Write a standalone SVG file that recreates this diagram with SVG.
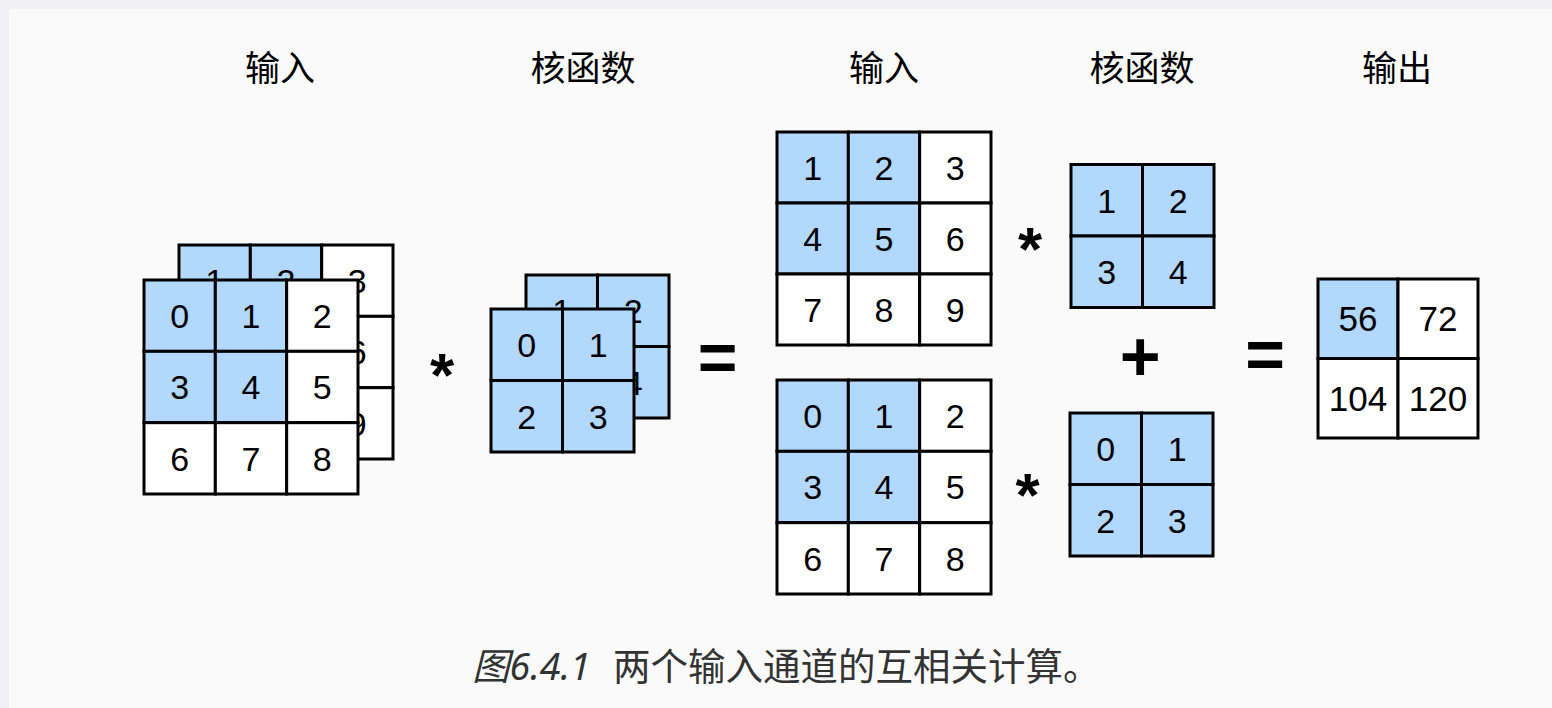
<svg xmlns="http://www.w3.org/2000/svg" width="1552" height="708" viewBox="0 0 1552 708">
<style>
.cb{fill:#b3d8fd;stroke:#000;stroke-width:3}
.cw{fill:#fff;stroke:#000;stroke-width:3}
.n{font-family:"Liberation Sans",Arial,sans-serif;font-size:34px;fill:#000;text-anchor:middle}
.no{font-family:"Liberation Sans",Arial,sans-serif;font-size:35px;fill:#000;text-anchor:middle}
.lbl{font-family:"Noto Sans CJK SC","Noto Sans",sans-serif;font-size:35px;fill:#000;text-anchor:middle}
.op{font-family:"Liberation Sans",Arial,sans-serif;font-weight:bold;fill:#000;text-anchor:middle}
.cap{font-family:"Noto Sans","Noto Sans CJK SC",sans-serif;font-size:37.5px;fill:#333}
</style>
<rect x="0" y="0" width="1552" height="708" fill="#f1f1f3"/>
<rect x="9" y="9" width="1543" height="699" fill="#fafafa"/>

<g id="labels">
<text class="lbl" x="280" y="81">输入</text>
<text class="lbl" x="583" y="81">核函数</text>
<text class="lbl" x="884" y="81">输入</text>
<text class="lbl" x="1142" y="81">核函数</text>
<text class="lbl" x="1397" y="81">输出</text>
</g>

<g id="input-stack-back">
<rect class="cb" x="179" y="245" width="71.33" height="71.33"/>
<rect class="cb" x="250.33" y="245" width="71.33" height="71.33"/>
<rect class="cw" x="321.67" y="245" width="71.33" height="71.33"/>
<rect class="cb" x="179" y="316.33" width="71.33" height="71.33"/>
<rect class="cb" x="250.33" y="316.33" width="71.33" height="71.33"/>
<rect class="cw" x="321.67" y="316.33" width="71.33" height="71.33"/>
<rect class="cw" x="179" y="387.67" width="71.33" height="71.33"/>
<rect class="cw" x="250.33" y="387.67" width="71.33" height="71.33"/>
<rect class="cw" x="321.67" y="387.67" width="71.33" height="71.33"/>
<text class="n" x="214.67" y="292.9">1</text>
<text class="n" x="286" y="292.9">2</text>
<text class="n" x="357.33" y="292.9">3</text>
<text class="n" x="214.67" y="364.2">4</text>
<text class="n" x="286" y="364.2">5</text>
<text class="n" x="357.33" y="364.2">6</text>
<text class="n" x="214.67" y="435.5">7</text>
<text class="n" x="286" y="435.5">8</text>
<text class="n" x="357.33" y="435.5">9</text>
</g>

<g id="input-stack-front">
<rect class="cb" x="144" y="280" width="71.33" height="71.33"/>
<rect class="cb" x="215.33" y="280" width="71.33" height="71.33"/>
<rect class="cw" x="286.67" y="280" width="71.33" height="71.33"/>
<rect class="cb" x="144" y="351.33" width="71.33" height="71.33"/>
<rect class="cb" x="215.33" y="351.33" width="71.33" height="71.33"/>
<rect class="cw" x="286.67" y="351.33" width="71.33" height="71.33"/>
<rect class="cw" x="144" y="422.67" width="71.33" height="71.33"/>
<rect class="cw" x="215.33" y="422.67" width="71.33" height="71.33"/>
<rect class="cw" x="286.67" y="422.67" width="71.33" height="71.33"/>
<text class="n" x="179.67" y="327.9">0</text>
<text class="n" x="251" y="327.9">1</text>
<text class="n" x="322.33" y="327.9">2</text>
<text class="n" x="179.67" y="399.2">3</text>
<text class="n" x="251" y="399.2">4</text>
<text class="n" x="322.33" y="399.2">5</text>
<text class="n" x="179.67" y="470.5">6</text>
<text class="n" x="251" y="470.5">7</text>
<text class="n" x="322.33" y="470.5">8</text>
</g>

<g id="kernel-stack-back">
<rect class="cb" x="526" y="275" width="71.5" height="71.5"/>
<rect class="cb" x="597.5" y="275" width="71.5" height="71.5"/>
<rect class="cb" x="526" y="346.5" width="71.5" height="71.5"/>
<rect class="cb" x="597.5" y="346.5" width="71.5" height="71.5"/>
<text class="n" x="561.75" y="323">1</text>
<text class="n" x="633.25" y="323">2</text>
<text class="n" x="561.75" y="394.5">3</text>
<text class="n" x="633.25" y="394.5">4</text>
</g>

<g id="kernel-stack-front">
<rect class="cb" x="491" y="309" width="71.5" height="71.5"/>
<rect class="cb" x="562.5" y="309" width="71.5" height="71.5"/>
<rect class="cb" x="491" y="380.5" width="71.5" height="71.5"/>
<rect class="cb" x="562.5" y="380.5" width="71.5" height="71.5"/>
<text class="n" x="526.75" y="357">0</text>
<text class="n" x="598.25" y="357">1</text>
<text class="n" x="526.75" y="428.5">2</text>
<text class="n" x="598.25" y="428.5">3</text>
</g>

<g id="input-channel-1">
<rect class="cb" x="777" y="132" width="71.33" height="71"/>
<rect class="cb" x="848.33" y="132" width="71.33" height="71"/>
<rect class="cw" x="919.67" y="132" width="71.33" height="71"/>
<rect class="cb" x="777" y="203" width="71.33" height="71"/>
<rect class="cb" x="848.33" y="203" width="71.33" height="71"/>
<rect class="cw" x="919.67" y="203" width="71.33" height="71"/>
<rect class="cw" x="777" y="274" width="71.33" height="71"/>
<rect class="cw" x="848.33" y="274" width="71.33" height="71"/>
<rect class="cw" x="919.67" y="274" width="71.33" height="71"/>
<text class="n" x="812.67" y="179.7">1</text>
<text class="n" x="884" y="179.7">2</text>
<text class="n" x="955.33" y="179.7">3</text>
<text class="n" x="812.67" y="250.7">4</text>
<text class="n" x="884" y="250.7">5</text>
<text class="n" x="955.33" y="250.7">6</text>
<text class="n" x="812.67" y="321.7">7</text>
<text class="n" x="884" y="321.7">8</text>
<text class="n" x="955.33" y="321.7">9</text>
</g>

<g id="input-channel-0">
<rect class="cb" x="777" y="380" width="71.33" height="71.33"/>
<rect class="cb" x="848.33" y="380" width="71.33" height="71.33"/>
<rect class="cw" x="919.67" y="380" width="71.33" height="71.33"/>
<rect class="cb" x="777" y="451.33" width="71.33" height="71.33"/>
<rect class="cb" x="848.33" y="451.33" width="71.33" height="71.33"/>
<rect class="cw" x="919.67" y="451.33" width="71.33" height="71.33"/>
<rect class="cw" x="777" y="522.67" width="71.33" height="71.33"/>
<rect class="cw" x="848.33" y="522.67" width="71.33" height="71.33"/>
<rect class="cw" x="919.67" y="522.67" width="71.33" height="71.33"/>
<text class="n" x="812.67" y="427.9">0</text>
<text class="n" x="884" y="427.9">1</text>
<text class="n" x="955.33" y="427.9">2</text>
<text class="n" x="812.67" y="499.2">3</text>
<text class="n" x="884" y="499.2">4</text>
<text class="n" x="955.33" y="499.2">5</text>
<text class="n" x="812.67" y="570.5">6</text>
<text class="n" x="884" y="570.5">7</text>
<text class="n" x="955.33" y="570.5">8</text>
</g>

<g id="kernel-channel-1">
<rect class="cb" x="1071" y="164.5" width="71.5" height="71.5"/>
<rect class="cb" x="1142.5" y="164.5" width="71.5" height="71.5"/>
<rect class="cb" x="1071" y="236" width="71.5" height="71.5"/>
<rect class="cb" x="1142.5" y="236" width="71.5" height="71.5"/>
<text class="n" x="1106.75" y="212.5">1</text>
<text class="n" x="1178.25" y="212.5">2</text>
<text class="n" x="1106.75" y="284">3</text>
<text class="n" x="1178.25" y="284">4</text>
</g>

<g id="kernel-channel-0">
<rect class="cb" x="1070" y="413" width="71.5" height="71.5"/>
<rect class="cb" x="1141.5" y="413" width="71.5" height="71.5"/>
<rect class="cb" x="1070" y="484.5" width="71.5" height="71.5"/>
<rect class="cb" x="1141.5" y="484.5" width="71.5" height="71.5"/>
<text class="n" x="1105.75" y="461">0</text>
<text class="n" x="1177.25" y="461">1</text>
<text class="n" x="1105.75" y="532.5">2</text>
<text class="n" x="1177.25" y="532.5">3</text>
</g>

<g id="output">
<rect class="cb" x="1318" y="279" width="80" height="79.5"/>
<rect class="cw" x="1398" y="279" width="80" height="79.5"/>
<rect class="cw" x="1318" y="358.5" width="80" height="79.5"/>
<rect class="cw" x="1398" y="358.5" width="80" height="79.5"/>
<text class="no" x="1358" y="331">56</text>
<text class="no" x="1438" y="331">72</text>
<text class="no" x="1358" y="410.5">104</text>
<text class="no" x="1438" y="410.5">120</text>
</g>

<g id="connectors">
<text class="op" x="442" y="396" font-size="62">*</text>
<text class="op" x="1030" y="270" font-size="62">*</text>
<text class="op" x="1027.5" y="516" font-size="62">*</text>
<text class="op" x="717.5" y="381" font-size="68">=</text>
<text class="op" x="1265" y="378" font-size="68">=</text>
<text class="op" x="1140.3" y="380.7" font-size="70">+</text>
</g>

<g id="caption">
<text class="cap" x="472" y="680"><tspan font-style="italic">图6.4.1</tspan></text>
<text class="cap" x="613" y="680">两个输入通道的互相关计算。</text>
</g>
</svg>
